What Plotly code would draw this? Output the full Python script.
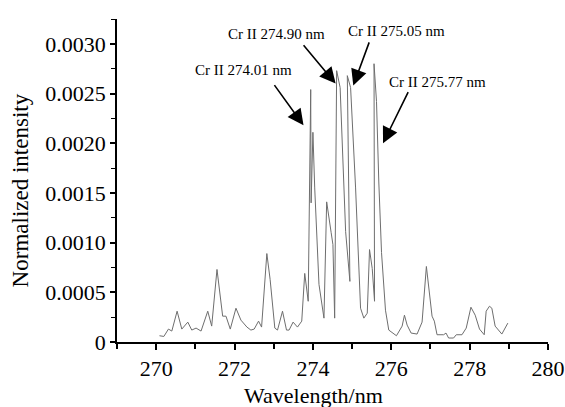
import plotly.graph_objects as go

# Spectrum data
wavelength_nm = [
    270.084, 270.196, 270.313, 270.399, 270.534, 270.654, 270.807, 270.908, 271.018, 271.145,
    271.316, 271.417, 271.552, 271.697, 271.781, 271.891, 272.036, 272.163, 272.316, 272.417,
    272.501, 272.613, 272.690, 272.824, 272.908, 273.028, 273.097, 273.224, 273.326, 273.392,
    273.494, 273.606, 273.715, 273.791, 273.880, 273.944, 273.954, 274.000, 274.046, 274.155,
    274.282, 274.351, 274.466, 274.511, 274.555, 274.606, 274.695, 274.776, 274.835, 274.944,
    274.878, 274.962, 275.089, 275.216, 275.300, 275.387, 275.445, 275.514, 275.573, 275.560,
    275.623, 275.682, 275.751, 275.852, 275.936, 276.132, 276.277, 276.336, 276.405, 276.506,
    276.659, 276.786, 276.896, 277.041, 277.099, 277.168, 277.336, 277.397, 277.463, 277.590,
    277.659, 277.804, 277.913, 278.033, 278.142, 278.252, 278.372, 278.422, 278.506, 278.567,
    278.651, 278.822, 278.975,
]
intensity = [
    0.000063, 0.000056, 0.00013, 0.00011, 0.00031, 0.00013, 0.00020, 0.00012, 0.00014, 0.00011,
    0.00031, 0.00016, 0.00073, 0.00026, 0.00026, 0.00013, 0.00034, 0.00022, 0.00015, 0.00012,
    0.00013, 0.00021, 0.00015, 0.00089, 0.00063, 0.00014, 0.00012, 0.00031, 0.00012, 0.00012,
    0.00020, 0.00015, 0.00021, 0.00069, 0.00041, 0.00254, 0.00140, 0.00211, 0.00155, 0.00058,
    0.00024, 0.00141, 0.00110, 0.00098, 0.00024, 0.00273, 0.00256, 0.00161, 0.00111, 0.00061,
    0.00268, 0.00256, 0.00155, 0.00034, 0.00024, 0.00029, 0.00093, 0.00074, 0.00041, 0.00280,
    0.00242, 0.00161, 0.00090, 0.00032, 0.00012, 0.000063, 0.00016, 0.00027, 0.00017, 0.00009,
    0.00008, 0.00020, 0.00076, 0.00026, 0.00021, 0.000073, 0.000073, 0.00009, 0.00004, 0.00004,
    0.000073, 0.000073, 0.00014, 0.00035, 0.00027, 0.00013, 0.000073, 0.00031, 0.00036, 0.00034,
    0.00016, 0.00008, 0.00019,
]

x_tick_vals = [270, 272, 274, 276, 278, 280]
x_tick_text = ["270", "272", "274", "276", "278", "280"]
y_tick_vals = [0, 0.0005, 0.0010, 0.0015, 0.0020, 0.0025, 0.0030]
y_tick_text = ["0", "0.0005", "0.0010", "0.0015", "0.0020", "0.0025", "0.0030"]
x_title = "Wavelength/nm"
y_title = "Normalized intensity"

# Emission line labels and their arrows (label centre, arrow tail, arrow tip)
line_labels = ["Cr II 274.01 nm", "Cr II 274.90 nm", "Cr II 275.05 nm", "Cr II 275.77 nm"]
label_pos = [(272.24, 0.00274), (273.06, 0.00310), (276.14, 0.00313), (277.17, 0.00262)]
arrow_tail = [(272.99, 0.00260), (273.73, 0.00300), (275.45, 0.00303), (276.45, 0.00253)]
arrow_tip = [(273.76, 0.00218), (274.58, 0.00260), (275.03, 0.00258), (275.79, 0.00200)]

FONT = "Liberation Serif"

fig = go.Figure()
fig.add_trace(go.Scatter(
    x=wavelength_nm, y=intensity, mode="lines",
    line=dict(color="#6e6e6e", width=1),
    showlegend=False, hoverinfo="skip",
))

annotations = []
for txt, (tx, ty) in zip(line_labels, label_pos):
    annotations.append(dict(
        x=tx, y=ty, xref="x", yref="y", text=txt, showarrow=False,
        font=dict(family=FONT, size=15, color="black"),
        xanchor="center", yanchor="middle",
    ))
for (ax_, ay_), (hx, hy) in zip(arrow_tail, arrow_tip):
    annotations.append(dict(
        x=hx, y=hy, xref="x", yref="y", ax=ax_, ay=ay_, axref="x", ayref="y",
        text="", showarrow=True, arrowhead=2, arrowsize=2.0, arrowwidth=1.6,
        arrowcolor="black", standoff=0, startstandoff=0,
    ))
# axis titles
annotations.append(dict(
    x=0.455, y=-0.166, xref="paper", yref="paper", text=x_title, showarrow=False,
    font=dict(family=FONT, size=22, color="black"), xanchor="center", yanchor="middle",
))
annotations.append(dict(
    x=-0.225, y=0.4695, xref="paper", yref="paper", text=y_title, showarrow=False,
    textangle=-90, font=dict(family=FONT, size=23, color="black"),
    xanchor="center", yanchor="middle",
))

fig.update_layout(
    width=565, height=407,
    margin=dict(l=117, r=17, t=19, b=65),
    paper_bgcolor="white", plot_bgcolor="white",
    font=dict(family=FONT, color="black"),
    annotations=annotations,
    xaxis=dict(
        range=[269, 280], showgrid=False, zeroline=False, automargin=False,
        showline=True, linecolor="black", linewidth=1.5,
        ticks="outside", ticklen=6, tickwidth=1.5, tickcolor="black",
        tickvals=x_tick_vals, ticktext=x_tick_text,
        tickfont=dict(family=FONT, size=22, color="black"),
        minor=dict(ticks="outside", dtick=1, tick0=269, ticklen=5, tickwidth=1.5, tickcolor="black"),
    ),
    yaxis=dict(
        range=[0, 0.00325], showgrid=False, zeroline=False, automargin=False,
        showline=True, linecolor="black", linewidth=1.5,
        ticks="outside", ticklen=5, tickwidth=1.5, tickcolor="black",
        tickvals=y_tick_vals, ticktext=y_tick_text,
        tickfont=dict(family=FONT, size=22, color="black"),
        minor=dict(ticks="outside", dtick=0.00025, tick0=0, ticklen=4, tickwidth=1.2, tickcolor="black"),
    ),
)

fig.write_html(
    "out.html",
    config={"displayModeBar": False},
    post_script="document.body.style.margin='0';document.body.style.overflow='hidden';",
)
